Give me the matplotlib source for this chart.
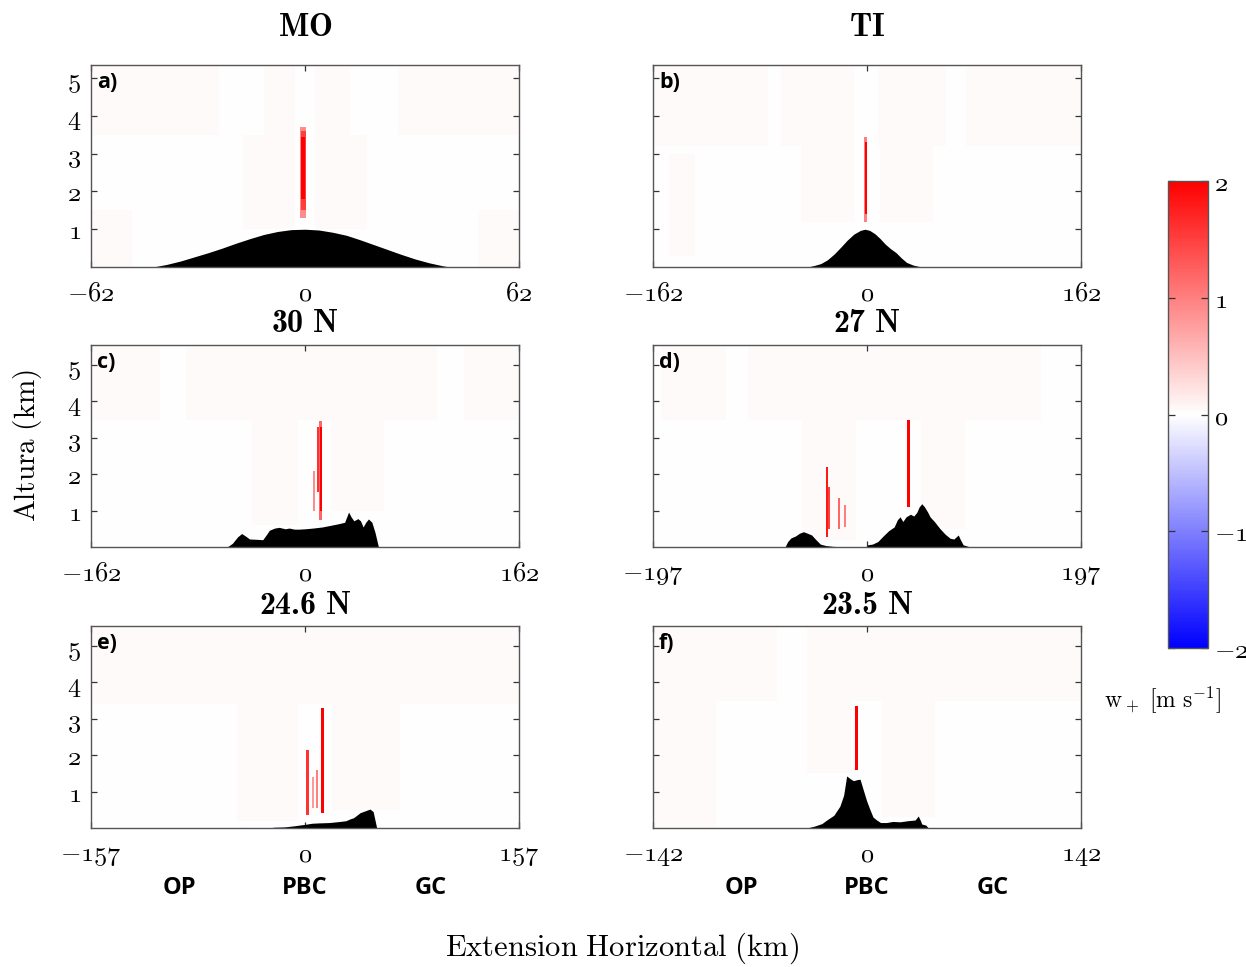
import numpy as np
import matplotlib.pyplot as plt
from matplotlib.colors import Normalize
from matplotlib.cm import ScalarMappable

plt.rcParams['mathtext.fontset'] = 'cm'
# "custom" math set: old-style numerals for ticks, CM bold for titles
plt.rcParams['mathtext.rm'] = 'cmmi10'
plt.rcParams['mathtext.it'] = 'cmmi10'
plt.rcParams['mathtext.bf'] = 'cmb10'

# panel setup
titles = ['MO', 'TI', '30 N', '27 N', '24.6 N', '23.5 N']
letters = ['a)', 'b)', 'c)', 'd)', 'e)', 'f)']
half_width = [62, 162, 162, 197, 157, 142]
z_top = [5.35, 5.35, 5.55, 5.55, 5.55, 5.55]
y_ticks = [1, 2, 3, 4, 5]
cbar_ticks = [-2, -1, 0, 1, 2]
sites = ['OP', 'PBC', 'GC']

# terrain profiles: distance (km), height (km)
ter_x_a = [-62, -44, -40, -36, -32, -28, -24, -20, -16, -12, -8, -4, 0, 4, 8, 12,
           16, 20, 24, 28, 32, 36, 40, 42, 62]
ter_h_a = [0, 0, 0.07, 0.16, 0.27, 0.38, 0.50, 0.63, 0.75, 0.86, 0.94, 0.99, 1.0,
           0.98, 0.92, 0.84, 0.72, 0.59, 0.46, 0.33, 0.21, 0.11, 0.03, 0, 0]

ter_x_b = [-162, -45, -40, -35, -30, -25, -20, -15, -10, -5, -1.5, 2, 6, 10, 14,
           18, 22, 26, 30, 35, 40, 42, 162]
ter_h_b = [0, 0, 0.04, 0.09, 0.19, 0.34, 0.52, 0.71, 0.87, 0.97, 1.0, 0.97, 0.88,
           0.75, 0.6, 0.48, 0.38, 0.24, 0.12, 0.05, 0.01, 0, 0]

ter_x_c = [-162, -59, -55, -51, -48, -45, -42, -36, -32, -29, -27, -23, -19.6, -15,
           -12, -8, -4.7, 0, 6, 13, 20, 25.5, 30, 33, 35, 37, 40, 42, 44, 46, 48,
           50.6, 53, 55.6, 162]
ter_h_c = [0, 0, 0.1, 0.28, 0.37, 0.3, 0.22, 0.21, 0.2, 0.35, 0.46, 0.52, 0.54, 0.5,
           0.52, 0.49, 0.49, 0.5, 0.52, 0.55, 0.6, 0.64, 0.68, 0.96, 0.82, 0.72,
           0.78, 0.72, 0.55, 0.68, 0.77, 0.68, 0.4, 0, 0]

ter_x_d = [-197, -75.5, -73, -70, -66, -62, -58.6, -55, -51, -47, -43, -38, -32,
           -26.6, -26, 0, 0.5, 5, 10, 14.8, 20, 25, 28, 30.4, 33, 36, 40, 43, 45.8,
           48, 50.4, 53, 56, 58, 62, 67, 72, 76.5, 80, 84, 86, 88.5, 95, 197]
ter_h_d = [0, 0, 0.15, 0.25, 0.3, 0.38, 0.42, 0.38, 0.33, 0.2, 0.08, 0.04, 0.02,
           0.01, 0, 0, 0.06, 0.08, 0.15, 0.3, 0.45, 0.55, 0.75, 0.83, 0.7, 0.83,
           0.9, 0.85, 0.95, 1.1, 1.19, 1.1, 0.95, 0.83, 0.7, 0.51, 0.35, 0.24,
           0.22, 0.33, 0.2, 0.06, 0, 0]

ter_x_e = [-157, -44.5, -44, -43, -24, -23.5, -15, -8, 0, 5, 10, 18, 25.7, 30, 33,
           35.5, 38, 40.4, 44, 47.7, 50, 52.6, 157]
ter_h_e = [0, 0, 0.02, 0, 0, 0.02, 0.03, 0.06, 0.1, 0.13, 0.14, 0.15, 0.18, 0.2,
           0.25, 0.28, 0.35, 0.42, 0.47, 0.52, 0.45, 0, 0]

ter_x_f = [-142, -40, -35, -30, -26.7, -22, -18, -15.5, -13.5, -11, -9, -6.5, -4.6,
           -2.5, -0.2, 2, 4, 6.4, 9, 13, 17, 21.9, 27, 31.9, 34, 35.5, 36.3, 39,
           40.7, 142]
ter_h_f = [0, 0, 0.05, 0.12, 0.22, 0.35, 0.6, 0.9, 1.43, 1.35, 1.3, 1.33, 1.34,
           1.05, 0.74, 0.5, 0.3, 0.22, 0.15, 0.15, 0.18, 0.17, 0.2, 0.22, 0.33,
           0.2, 0.11, 0.08, 0, 0]

# updraft cores: (x, z bottom, z top, width, w+ in m/s)
w_a = [(-0.5, 1.3, 3.7, 1.8, 0.9), (-0.5, 1.5, 3.6, 1.5, 1.5),
       (-0.5, 1.8, 3.45, 1.1, 2.0)]
w_b = [(-1.0, 1.2, 3.45, 2.4, 1.0), (-1.0, 1.4, 3.3, 1.5, 2.0)]
w_c = [(6.8, 1.0, 2.1, 1.6, 0.9), (10.0, 1.5, 3.3, 1.6, 1.6),
       (11.6, 0.75, 3.45, 2.6, 1.2), (12.0, 1.0, 3.3, 1.6, 2.0)]
w_d = [(-37.1, 0.27, 2.2, 1.9, 1.8), (-34.6, 0.5, 1.65, 1.9, 1.5),
       (-25.5, 0.5, 1.34, 1.9, 1.2), (-20.2, 0.55, 1.15, 1.9, 1.0),
       (38.1, 1.1, 3.49, 2.2, 2.0)]
w_e = [(1.7, 0.36, 2.14, 1.8, 1.6), (5.6, 0.55, 1.4, 1.5, 0.8),
       (9.0, 0.55, 1.6, 1.5, 1.0), (13.0, 0.41, 3.3, 2.2, 2.0)]
w_f = [(-7.1, 1.6, 3.35, 2.0, 2.0)]

# weak background updrafts: (x0, x1, z0, z1)
bg_a = [(-62, -25, 3.5, 5.35), (-12, -3, 3.5, 5.35), (3, 13, 3.5, 5.35),
        (27, 62, 3.5, 5.35), (-18, -3, 1.0, 3.5), (3, 18, 1.0, 3.5),
        (-62, -50, 0, 1.5), (50, 62, 0, 1.5)]
bg_b = [(-162, -75, 3.2, 5.35), (-65, -10, 3.2, 5.35), (8, 60, 3.2, 5.35),
        (75, 162, 3.2, 5.35), (-50, -10, 1.2, 3.2), (10, 50, 1.2, 3.2),
        (-150, -130, 0.3, 3.0)]
bg_c = [(-162, -110, 3.5, 5.55), (-90, 100, 3.5, 5.55), (120, 162, 3.5, 5.55),
        (-40, -5, 0.6, 3.5), (20, 60, 1.0, 3.5)]
bg_d = [(-190, -130, 3.5, 5.55), (-110, 160, 3.5, 5.55), (-60, -10, 0.2, 3.5),
        (50, 90, 0.5, 3.5)]
bg_e = [(-157, 157, 3.4, 5.55), (-50, -5, 0.2, 3.4), (20, 70, 0.5, 3.4)]
bg_f = [(-142, -60, 3.5, 5.55), (-40, 142, 3.5, 5.55), (-142, -100, 0, 3.5),
        (-40, -10, 1.5, 3.5), (10, 45, 0.3, 3.5)]
bg_w = 0.04

terrain_x = [ter_x_a, ter_x_b, ter_x_c, ter_x_d, ter_x_e, ter_x_f]
terrain_h = [ter_h_a, ter_h_b, ter_h_c, ter_h_d, ter_h_e, ter_h_f]
updrafts = [w_a, w_b, w_c, w_d, w_e, w_f]
backgrounds = [bg_a, bg_b, bg_c, bg_d, bg_e, bg_f]

W, H = 1246, 967
fig = plt.figure(figsize=(W / 100, H / 100), dpi=100)
norm = Normalize(vmin=-2, vmax=2)
cmap = plt.get_cmap('bwr')


def num(v):
    return r'$%d$' % v


# axes boxes in pixels: left, top; title offsets above each row
col_left = [91, 653]
row_top = [65, 345, 626]
title_gap = [37, 22, 20]
ax_w, ax_h = 428, 202
for i in range(6):
    r, c = divmod(i, 2)
    l, t = col_left[c], row_top[r]
    ax = fig.add_axes([l / W, 1 - (t + ax_h) / H, ax_w / W, ax_h / H])
    L, zt = half_width[i], z_top[i]

    # vertical velocity field, one cell per screen pixel
    xe = np.linspace(-L, L, ax_w + 1)
    ze = np.linspace(0, zt, ax_h + 1)
    X, Z = np.meshgrid(0.5 * (xe[1:] + xe[:-1]), 0.5 * (ze[1:] + ze[:-1]))
    field = np.zeros_like(X)
    for x0, x1, z0, z1 in backgrounds[i]:
        field[(X >= x0) & (X <= x1) & (Z >= z0) & (Z <= z1)] = bg_w
    for xm, z0, z1, wd, val in updrafts[i]:
        m = (np.abs(X - xm) <= wd / 2) & (Z >= z0) & (Z <= z1)
        field[m] = np.maximum(field[m], val)
    ax.imshow(field, cmap=cmap, norm=norm, origin='lower', aspect='auto',
              extent=(-L, L, 0, zt), interpolation='nearest')

    ax.fill_between(terrain_x[i], 0, terrain_h[i], color='black', lw=0, zorder=3)

    ax.set_xlim(-L, L)
    ax.set_ylim(0, zt)
    ax.set_xticks([-L, 0, L])
    ax.set_xticklabels([num(-L), num(0), num(L)], fontsize=19,
                       math_fontfamily='custom')
    ax.set_yticks(y_ticks)
    if c == 0:
        ax.set_yticklabels([num(v) for v in y_ticks], fontsize=19,
                           math_fontfamily='custom')
    else:
        ax.set_yticklabels([])
    ax.tick_params(direction='in', top=True, right=True, length=4, width=0.9,
                   color='#333333')
    ax.tick_params(axis='x', pad=10)
    ax.tick_params(axis='y', pad=7)
    for sp in ax.spines.values():
        sp.set_color('#555555')
        sp.set_linewidth(1.0)
        sp.set_zorder(4)

    ax.text(0.014, 0.965, letters[i], transform=ax.transAxes, ha='left', va='top',
            fontsize=15.5, fontweight='bold', family='Open Sans', zorder=5)

    label = r'$\mathbf{%s}$' % titles[i].replace(' ', r'\ ')
    fig.text((l + ax_w / 2) / W, 1 - (t - title_gap[r]) / H, label,
             ha='center', va='center', fontsize=23, math_fontfamily='custom')

# site names under the bottom row
for c in range(2):
    l = col_left[c]
    for k, s in enumerate(sites):
        fig.text((l + ax_w / 2 + (k - 1) * 126) / W, 1 - 888 / H, s,
                 ha='center', va='center', fontsize=17, fontweight='bold',
                 family='Open Sans')

fig.text(28 / W, 1 - 445 / H, r'$\mathrm{Altura\ (km)}$', rotation=90,
         ha='center', va='center', fontsize=21)
fig.text(622 / W, 1 - 948 / H, r'$\mathrm{Extension\ Horizontal\ (km)}$',
         ha='center', va='center', fontsize=22)

# colour bar
cax = fig.add_axes([1168 / W, 1 - 648 / H, 40 / W, 467 / H])
cb = fig.colorbar(ScalarMappable(norm=norm, cmap=cmap), cax=cax, ticks=cbar_ticks)
cb.ax.set_yticklabels([num(v) for v in cbar_ticks], fontsize=19,
                      math_fontfamily='custom')
cb.ax.tick_params(direction='in', left=True, right=True, length=5, width=0.9,
                  color='#333333', pad=4)
cb.outline.set_edgecolor('#555555')
cb.outline.set_linewidth(1.0)
fig.text(1162 / W, 1 - 700 / H, r'$\mathrm{w}_+\ [\mathrm{m\ s}^{-1}]$',
         ha='center', va='center', fontsize=17)

fig.savefig('out.png', dpi=100)
